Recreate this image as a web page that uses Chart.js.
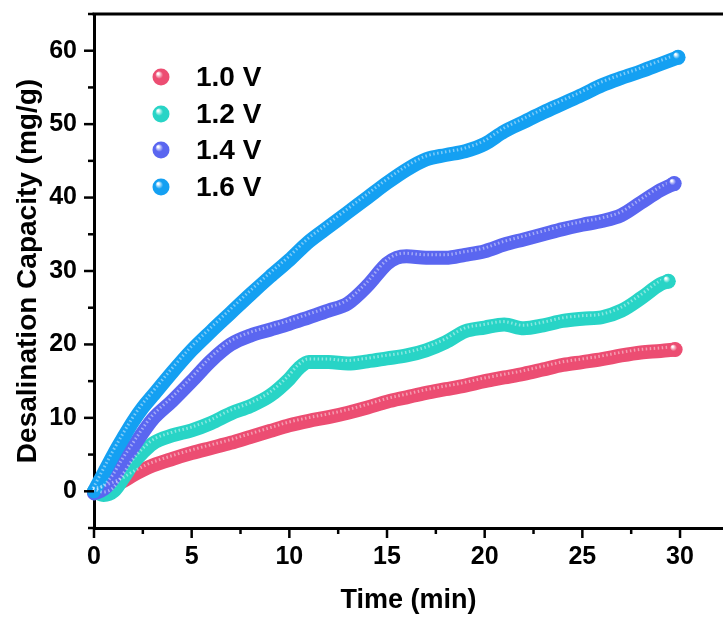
<!DOCTYPE html>
<html>
<head>
<meta charset="utf-8">
<script src="https://cdn.jsdelivr.net/npm/chart.js@4/dist/chart.umd.min.js"></script>
<style>
  html, body { margin: 0; padding: 0; background: #fff; }
  #wrap { width: 723px; height: 619px; position: relative; }
</style>
</head>
<body>
<div id="wrap"><canvas id="c" width="723" height="619"></canvas></div>
<script>
// ---- data ----
const seriesLabels = ['1.0 V', '1.2 V', '1.4 V', '1.6 V'];
const seriesColors = ['#EC4D72', '#28D4C6', '#5A66F0', '#14A0F2'];

const time10 = [0,0.5,1,1.5,2,2.5,3,4,5,6,7,8,9,10,11,12,13,14,15,16,17,18,19,20,21,22,23,24,25,26,27,28,29,29.75];
const cap10  = [0,0.3,0.8,1.4,2.2,2.9,3.5,4.4,5.2,5.9,6.6,7.4,8.2,9.0,9.6,10.1,10.7,11.4,12.2,12.8,13.4,13.9,14.4,15.0,15.5,16.0,16.6,17.2,17.6,18.0,18.5,18.9,19.1,19.3];

const time12 = [0,0.5,1,1.5,2,2.5,3,4,5,6,7,8,9,10,10.5,11,12,13,14,15,16,17,18,19,20,21,22,23,24,25,26,27,28,29,29.4];
const cap12  = [0,-0.5,0,1.8,3.8,5.3,6.5,7.6,8.3,9.3,10.6,11.6,13.0,15.3,16.8,17.6,17.6,17.4,17.7,18.1,18.5,19.2,20.3,21.8,22.3,22.7,22.2,22.6,23.2,23.5,23.7,24.6,26.3,28.2,28.6];

const time14 = [0,0.5,1,1.5,2,2.5,3,4,5,6,7,8,9,10,11,12,13,14,15,15.5,16,17,18,19,20,21,22,23,24,25,26,27,28,29,29.7];
const cap14  = [-0.3,0.3,1.8,4.0,6.0,8.0,9.8,12.3,15.0,17.8,20.0,21.2,22.0,22.8,23.7,24.6,25.6,28.0,31.0,31.8,32.0,31.8,31.8,32.2,32.7,33.6,34.3,35.0,35.7,36.3,36.8,37.6,39.3,41.0,41.9];

const time16 = [0,0.5,1,1.5,2,2.5,3,4,5,6,7,8,9,10,11,12,13,14,15,16,17,18,19,20,21,22,23,24,25,26,27,28,29,29.9];
const cap16  = [0,2.5,5.0,7.3,9.5,11.4,13.0,16.2,19.2,21.8,24.3,26.8,29.2,31.5,34.0,36.0,38.0,40.0,42.0,43.8,45.2,45.8,46.3,47.3,49.0,50.3,51.6,52.8,54.0,55.3,56.3,57.2,58.2,59.1];

const xTickLabels = ['0','5','10','15','20','25','30'];
const yTickLabels = ['0','10','20','30','40','50','60'];

// ---- build ----
const times = [time10, time12, time14, time16];
const caps = [cap10, cap12, cap14, cap16];
const FONT = "'Liberation Sans', Arial, Helvetica, sans-serif";

function sphere(ctx, x, y, r, color) {
  const g = ctx.createRadialGradient(x - r*0.35, y - r*0.4, r*0.1, x, y, r);
  g.addColorStop(0, '#ffffff');
  g.addColorStop(0.4, color);
  g.addColorStop(1, color);
  ctx.beginPath();
  ctx.arc(x, y, r, 0, Math.PI*2);
  ctx.fillStyle = g;
  ctx.fill();
}

const datasets = seriesLabels.map((lab, i) => ({
  label: lab,
  data: times[i].map((t, k) => ({x: t, y: caps[i][k]})),
  borderColor: seriesColors[i],
  backgroundColor: seriesColors[i],
  borderWidth: 14,
  borderCapStyle: 'round',
  borderJoinStyle: 'round',
  cubicInterpolationMode: 'monotone',
  pointRadius: 0,
  order: 3 - i,
  clip: 10
}));

function tracePath(ctx, pts) {
  ctx.beginPath();
  ctx.moveTo(pts[0].x, pts[0].y);
  for (let k = 1; k < pts.length; k++) {
    const p = pts[k - 1], c = pts[k];
    if (p.cp2x !== undefined && c.cp1x !== undefined) {
      ctx.bezierCurveTo(p.cp2x, p.cp2y, c.cp1x, c.cp1y, c.x, c.y);
    } else {
      ctx.lineTo(c.x, c.y);
    }
  }
}

const decor = {
  id: 'decor',
  afterDatasetsDraw(chart) {
    const ctx = chart.ctx;
    // bead texture + end spheres, series drawn bottom-to-top
    [0, 1, 2, 3].forEach(i => {
      const meta = chart.getDatasetMeta(i);
      const pts = meta.data;
      ctx.save();
      ctx.translate(-1, -3);
      tracePath(ctx, pts);
      ctx.setLineDash([1.5, 2.5]);
      ctx.lineWidth = 3;
      ctx.lineCap = 'butt';
      ctx.strokeStyle = 'rgba(255,255,255,0.45)';
      ctx.stroke();
      ctx.restore();
    });
    chart.data.datasets.forEach((ds, i) => {
      const meta = chart.getDatasetMeta(i);
      const last = meta.data[meta.data.length - 1];
      sphere(ctx, last.x, last.y, 7.5, seriesColors[i]);
    });
  },
  afterDraw(chart) {
    const ctx = chart.ctx;
    const a = chart.chartArea;
    ctx.save();
    ctx.strokeStyle = '#000';
    ctx.lineCap = 'butt';
    // top frame line
    ctx.lineWidth = 3;
    ctx.beginPath();
    ctx.moveTo(a.left - 1.5, a.top);
    ctx.lineTo(a.right, a.top);
    ctx.stroke();
    // outward ticks
    ctx.lineWidth = 2.5;
    const xs = chart.scales.x, ys = chart.scales.y;
    xs.ticks.forEach(t => {
      const px = xs.getPixelForValue(t.value);
      const major = xTickLabels.includes(String(t.value));
      ctx.beginPath();
      ctx.moveTo(px, a.bottom);
      ctx.lineTo(px, a.bottom + (major ? 10 : 6));
      ctx.stroke();
    });
    ys.ticks.forEach(t => {
      const py = ys.getPixelForValue(t.value);
      const major = yTickLabels.includes(String(t.value));
      ctx.beginPath();
      ctx.moveTo(a.left, py);
      ctx.lineTo(a.left - (major ? 10 : 6), py);
      ctx.stroke();
    });
    // legend
    ctx.textAlign = 'left';
    ctx.textBaseline = 'middle';
    ctx.font = "bold 28px " + FONT;
    const legY = [77, 114, 150, 187];
    seriesLabels.forEach((lab, i) => {
      sphere(ctx, 161, legY[i], 8.5, seriesColors[i]);
      ctx.fillStyle = '#000';
      ctx.fillText(lab, 196, legY[i] + 1);
    });
    ctx.restore();
  }
};

new Chart(document.getElementById('c'), {
  type: 'line',
  data: { datasets },
  options: {
    responsive: false,
    animation: false,
    events: [],
    layout: { padding: { top: 14, right: 0, left: 0, bottom: 0 } },
    plugins: { legend: { display: false }, tooltip: { enabled: false } },
    scales: {
      x: {
        type: 'linear',
        min: 0, max: 32.2,
        afterFit(s) { s.height = 91; s.paddingLeft = 0; s.paddingRight = 0; },
        border: { display: true, color: '#000', width: 3 },
        grid: { display: false, drawTicks: false },
        ticks: {
          stepSize: 2.5, includeBounds: false, autoSkip: false, maxRotation: 0,
          padding: 14, color: '#000',
          font: { family: FONT, size: 25, weight: 'bold' },
          callback: v => xTickLabels.includes(String(v)) ? String(v) : ''
        },
        title: {
          display: true, text: 'Time (min)', color: '#000',
          font: { family: FONT, size: 27, weight: 'bold' },
          padding: { top: 0, bottom: 2 }
        }
      },
      y: {
        type: 'linear',
        min: -5, max: 65,
        afterFit(s) { s.width = 94; s.paddingTop = 0; s.paddingBottom = 0; },
        border: { display: true, color: '#000', width: 3 },
        grid: { display: false, drawTicks: false },
        ticks: {
          stepSize: 5, includeBounds: false, autoSkip: false,
          padding: 17, color: '#000',
          font: { family: FONT, size: 25, weight: 'bold' },
          callback: v => yTickLabels.includes(String(v)) ? String(v) : ''
        },
        title: {
          display: true, text: 'Desalination Capacity (mg/g)', color: '#000',
          font: { family: FONT, size: 28, weight: 'bold' },
          padding: { top: 11, bottom: 0 }
        }
      }
    }
  },
  plugins: [decor]
});
</script>
</body>
</html>
